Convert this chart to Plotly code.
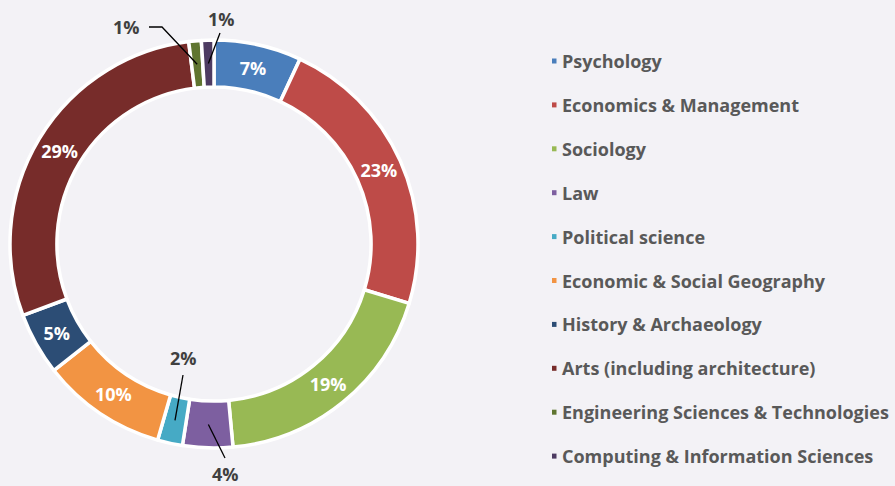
import math
import plotly.graph_objects as go

# ---- data ----
categories = [
    "Psychology", "Economics & Management", "Sociology", "Law",
    "Political science", "Economic & Social Geography", "History & Archaeology",
    "Arts (including architecture)", "Engineering Sciences & Technologies",
    "Computing & Information Sciences",
]
shares = [7, 23, 19, 4, 2, 10, 5, 29, 1, 1]
colors = ["#4A7EBB", "#BE4B48", "#98B954", "#7D5FA0", "#46AAC5",
          "#F29443", "#2C4D75", "#772C2A", "#5F7530", "#4D3B62"]

W, H = 895, 486
CX, CY, R = 214, 244, 204
HOLE = 0.77
SMALL = 5  # slices below this get outside labels with leader lines

def px(x):
    return x / W

def py(y):
    return 1 - y / H

inside = ["inside" if v >= SMALL else "none" for v in shares]

fig = go.Figure(go.Pie(
    labels=categories, values=shares, sort=False, direction="clockwise",
    rotation=0, hole=HOLE,
    marker=dict(colors=colors, line=dict(color="white", width=3.5)),
    texttemplate="%{value}%", textposition=inside,
    insidetextorientation="horizontal",
    textfont=dict(family="Open Sans", size=18, color="white", weight=700),
    domain=dict(x=[px(CX - R), px(CX + R)], y=[py(CY + R), py(CY - R)]),
    showlegend=False, hoverinfo="label+percent",
))

# outside labels for the small slices: label centre, line start, optional elbow (pixels)
label_pos = {
    "Law": ((225, 474), (225, 458), None),
    "Political science": ((183, 358), (183, 375), None),
    "Engineering Sciences & Technologies": ((127, 27), (149, 27), (162, 27)),
    "Computing & Information Sciences": ((221, 19), (220, 33), None),
}
total = sum(shares)
rmid = R * (1 + HOLE) / 2
cum = 0
shapes, annotations = [], []
for cat, v in zip(categories, shares):
    mid = (cum + v / 2) / total * 2 * math.pi
    cum += v
    if v >= SMALL:
        continue
    ex, ey = CX + rmid * math.sin(mid), CY - rmid * math.cos(mid)
    (tx, ty), (sx, sy), elbow = label_pos[cat]
    pts = [(sx, sy)] + ([elbow] if elbow else []) + [(ex, ey)]
    path = "M " + " L ".join(f"{px(a):.5f},{py(b):.5f}" for a, b in pts)
    shapes.append(dict(type="path", path=path, xref="paper", yref="paper",
                       line=dict(color="black", width=1.3)))
    annotations.append(dict(x=px(tx), y=py(ty), xref="paper", yref="paper",
                            xanchor="center", yanchor="middle",
                            text=f"{v}%", showarrow=False,
                            font=dict(family="Open Sans", size=18, color="#404040", weight=700)))

# manual legend
leg_y0, leg_dy = 61, 43.9
for i, (cat, col) in enumerate(zip(categories, colors)):
    yy = leg_y0 + i * leg_dy
    shapes.append(dict(type="rect", xref="paper", yref="paper",
                       x0=px(552), x1=px(556.5), y0=py(yy + 2.5), y1=py(yy - 2.5),
                       fillcolor=col, line=dict(width=0)))
    annotations.append(dict(x=px(560), y=py(yy), xref="paper", yref="paper",
                            xanchor="left", yanchor="middle", text=cat, showarrow=False,
                            font=dict(family="Open Sans", size=18, color="#595959", weight=700)))

fig.update_layout(
    width=W, height=H, margin=dict(l=0, r=0, t=0, b=0),
    paper_bgcolor="#F3F2F6", plot_bgcolor="#F3F2F6",
    shapes=shapes, annotations=annotations,
)
fig.write_html("out.html", config={"displayModeBar": False},
               post_script="document.body.style.margin='0';")
